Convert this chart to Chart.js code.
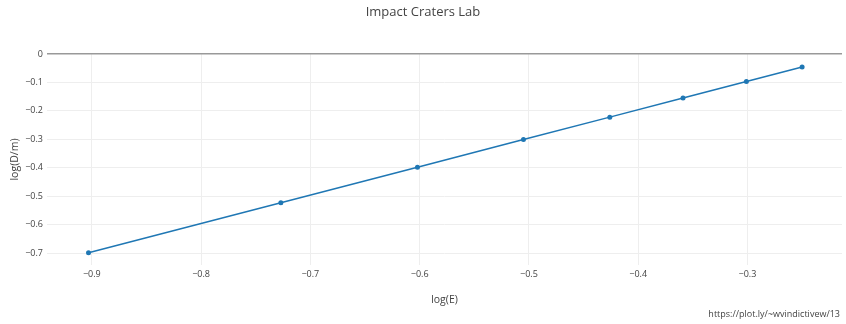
<!DOCTYPE html>
<html>
<head>
<meta charset="utf-8">
<script src="https://cdn.jsdelivr.net/npm/chart.js@4"></script>
<style>
  html, body { margin: 0; padding: 0; background: #fff; }
  #wrap { width: 846px; height: 324px; position: relative; }
</style>
</head>
<body>
<div id="wrap"><canvas id="chart"></canvas></div>
<script>
// ---- DATA ----
const logE = [-0.903, -0.727, -0.602, -0.505, -0.426, -0.359, -0.301, -0.250];
const logD = [-0.699, -0.523, -0.398, -0.301, -0.222, -0.155, -0.097, -0.046];
const xTicks = [-0.9, -0.8, -0.7, -0.6, -0.5, -0.4, -0.3];
const yTicks = [0, -0.1, -0.2, -0.3, -0.4, -0.5, -0.6, -0.7];

const FONT = "'Open Sans', sans-serif";
const TEXT = '#444';

const fmt = v => v === 0 ? '0' : '\u2212' + Math.abs(v).toFixed(1);

// axis titles + footer link
const extraText = {
  id: 'extraText',
  afterDraw(chart) {
    const { ctx, chartArea: a } = chart;
    ctx.save();
    ctx.fillStyle = TEXT;
    ctx.font = `10.5px ${FONT}`;
    ctx.textAlign = 'center';
    ctx.textBaseline = 'middle';
    ctx.fillText('log(E)', (a.left + a.right) / 2, 300);
    ctx.translate(15, (a.top + a.bottom) / 2);
    ctx.rotate(-Math.PI / 2);
    ctx.fillText('log(D/m)', 0, 0);
    ctx.restore();

    ctx.save();
    ctx.fillStyle = TEXT;
    ctx.font = `9px ${FONT}`;
    ctx.textAlign = 'right';
    ctx.textBaseline = 'middle';
    ctx.fillText('https://plot.ly/~wvindictivew/13', 840, 314);
    ctx.restore();
  }
};

new Chart(document.getElementById('chart'), {
  type: 'scatter',
  data: {
    datasets: [{
      label: 'log(D/m)',
      data: logE.map((x, i) => ({ x, y: logD[i] })),
      showLine: true,
      borderColor: '#1f77b4',
      backgroundColor: '#1f77b4',
      borderWidth: 1.5,
      pointRadius: 2.5,
      pointBorderWidth: 0,
    }]
  },
  options: {
    responsive: true,
    maintainAspectRatio: false,
    animation: false,
    layout: { padding: { left: 0, right: 0, top: 0, bottom: 0 } },
    plugins: {
      legend: { display: false },
      tooltip: { enabled: false },
      title: {
        display: true,
        text: 'Impact Craters Lab',
        color: TEXT,
        font: { family: FONT, size: 13, weight: 'normal', lineHeight: 1.2 },
        padding: { top: 4, bottom: 34.4 }
      }
    },
    scales: {
      x: {
        type: 'linear',
        min: -0.941,
        max: -0.2135,
        afterBuildTicks: s => { s.ticks = xTicks.map(value => ({ value })); },
        afterFit: s => { s.height = 59; },
        border: { display: false },
        grid: { color: '#eee', lineWidth: 1, drawTicks: false },
        ticks: {
          color: TEXT,
          padding: 4,
          font: { family: FONT, size: 9 },
          callback: v => fmt(v),
          maxRotation: 0,
        }
      },
      y: {
        min: -0.742,
        max: 0,
        afterBuildTicks: s => { s.ticks = yTicks.map(value => ({ value })); },
        afterFit: s => { s.width = 47; },
        border: { display: false },
        grid: {
          drawTicks: false,
          color: c => c.tick && c.tick.value === 0 ? '#999' : '#eee',
          lineWidth: c => c.tick && c.tick.value === 0 ? 1.5 : 1,
        },
        ticks: {
          color: TEXT,
          padding: 4,
          font: { family: FONT, size: 9 },
          callback: v => fmt(v),
        }
      }
    }
  },
  plugins: [extraText]
});
</script>
</body>
</html>
